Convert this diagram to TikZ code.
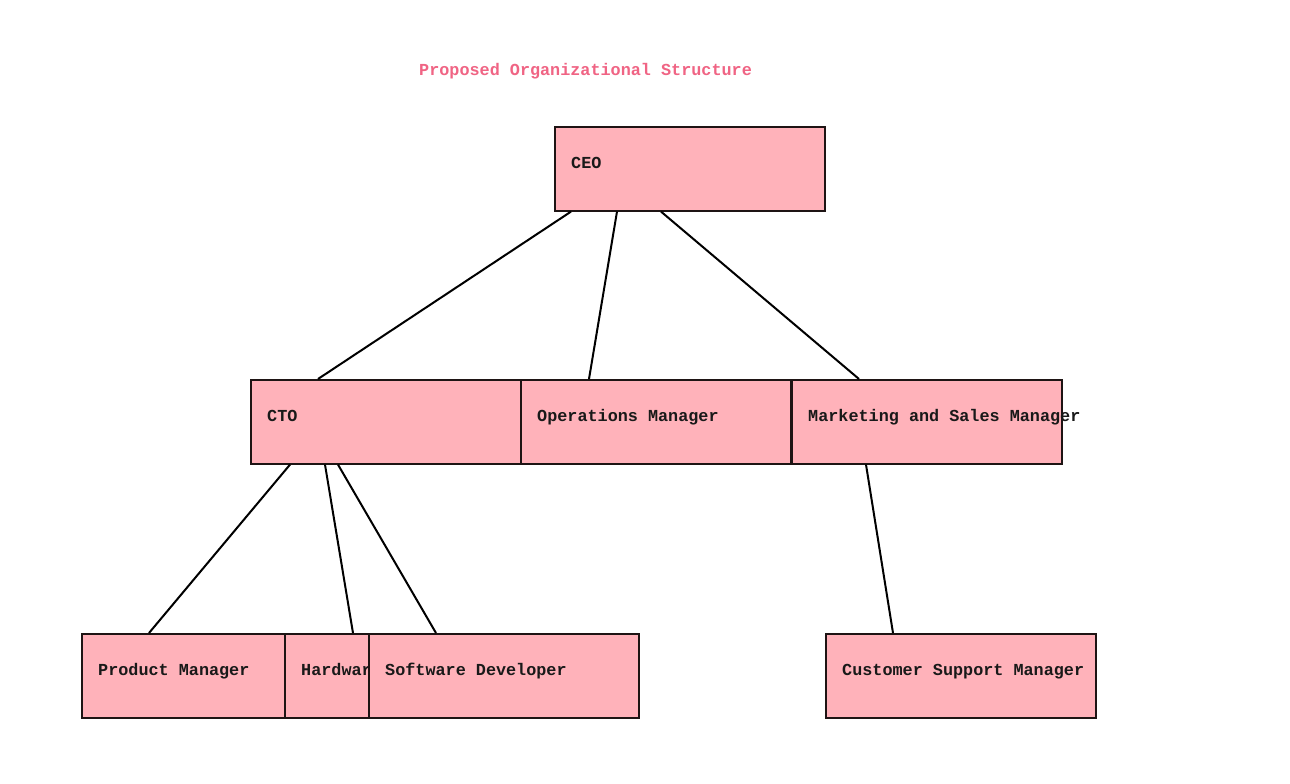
\documentclass[tikz,border=0pt]{standalone}
\usepackage{fontspec}
\setmonofont{Liberation Mono}
\usetikzlibrary{calc}
\definecolor{boxpink}{RGB}{255,178,186}
\definecolor{titlepink}{RGB}{240,100,132}
\definecolor{edgegray}{RGB}{30,20,20}
\begin{document}
\begin{tikzpicture}[x=1pt,y=-1pt,
  orgbox/.style={rectangle, draw=edgegray, line width=1.6pt, fill=boxpink,
    minimum width=270pt, minimum height=84pt, inner sep=0pt, anchor=north west},
  orglabel/.style={anchor=base west, inner sep=0pt, text=black!90,
    font=\ttfamily\bfseries\fontsize{16.8}{20}\selectfont},
  link/.style={line width=2pt, draw=black}]
\useasboundingbox[fill=white] (0,0) rectangle (1290,784);

% title
\node[orglabel, text=titlepink] (title) at (419,75) {Proposed Organizational Structure};

% top level
\node[orgbox] (ceo) at (554,126) {};
\node[orglabel] (ceo-t) at ($(ceo.north west)+(17,42)$) {CEO};

% second level
\node[orgbox] (cto) at (250,379) {};
\node[orglabel] (cto-t) at ($(cto.north west)+(17,42)$) {CTO};
\node[orgbox] (ops) at (520,379) {};
\node[orglabel] (ops-t) at ($(ops.north west)+(17,42)$) {Operations Manager};
\node[orgbox] (mkt) at (791,379) {};
\node[orglabel] (mkt-t) at ($(mkt.north west)+(17,42)$) {Marketing and Sales Manager};

% third level (boxes overlap, later ones on top)
\node[orgbox] (pm) at (81,633) {};
\node[orglabel] (pm-t) at ($(pm.north west)+(17,42)$) {Product Manager};
\node[orgbox] (hw) at (284,633) {};
\begin{scope}
  % the label is cut off where the next box starts
  \clip (284,633) rectangle (368,717);
  \node[orglabel] (hw-t) at ($(hw.north west)+(17,42)$) {Hardware};
\end{scope}
\node[orgbox] (sw) at (368,633) {};
\node[orglabel] (sw-t) at ($(sw.north west)+(17,42)$) {Software Developer};
\node[orgbox] (csm) at (825,633) {};
\node[orglabel] (csm-t) at ($(csm.north west)+(17,42)$) {Customer Support Manager};

% reporting lines
\draw[link] ($(ceo.south west)+(17,0)$) -- ($(cto.north west)+(68,0)$);
\draw[link] ($(ceo.south west)+(63,0)$) -- ($(ops.north west)+(69,0)$);
\draw[link] ($(ceo.south west)+(107,0)$) -- ($(mkt.north west)+(68,0)$);
\draw[link] ($(cto.south west)+(40,0)$) -- ($(pm.north west)+(68,0)$);
\draw[link] ($(cto.south west)+(75,0)$) -- ($(hw.north west)+(69,0)$);
\draw[link] ($(cto.south west)+(88,0)$) -- ($(sw.north west)+(68,0)$);
\draw[link] ($(mkt.south west)+(75,0)$) -- ($(csm.north west)+(68,0)$);
\end{tikzpicture}
\end{document}
